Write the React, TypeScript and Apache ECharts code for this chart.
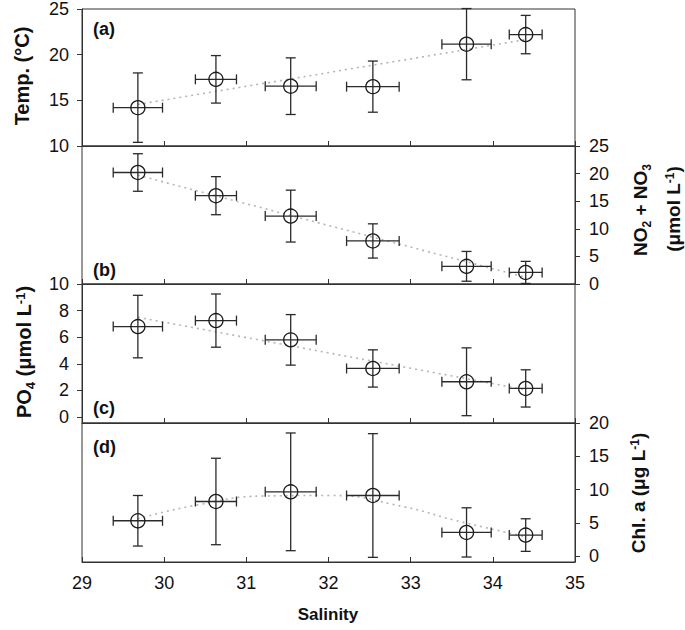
import React, { useEffect, useRef } from "react";
import * as echarts from "echarts";

const salinity = [29.68, 30.63, 31.54, 32.54, 33.68, 34.4];
const salinityErr = [0.3, 0.25, 0.31, 0.32, 0.3, 0.2];

const temp = [14.2, 17.3, 16.55, 16.5, 21.15, 22.2];
const tempErr = [3.8, 2.6, 3.1, 2.8, 3.9, 2.1];

const nox = [20.2, 16.0, 12.3, 7.8, 3.2, 2.1];
const noxErr = [3.4, 3.45, 4.7, 3.1, 2.7, 2.0];

const po4 = [6.8, 7.25, 5.8, 3.65, 2.65, 2.15];
const po4Err = [2.35, 2.0, 1.9, 1.4, 2.55, 1.4];

const chl = [5.3, 8.2, 9.65, 9.1, 3.55, 3.15];
const chlErr = [3.8, 6.5, 8.85, 9.3, 3.7, 2.45];

const trendAX = [29.68, 34.4];
const trendAY = [14.55, 21.65];
const trendBX = [29.68, 34.4];
const trendBY = [19.7, 1.2];
const trendCX = [29.68, 34.4];
const trendCY = [7.5, 2.05];
const trendDX = [29.68, 30.4, 31.21, 32.02, 32.92, 33.53, 34.4];
const trendDY = [5.6, 7.67, 9.02, 9.1, 7.4, 5.4, 2.9];

const xTicks = [29, 30, 31, 32, 33, 34, 35];
const tempTicks = [10, 15, 20, 25];
const noxTicks = [0, 5, 10, 15, 20, 25];
const po4Ticks = [0, 2, 4, 6, 8, 10];
const chlTicks = [0, 5, 10, 15, 20];

const FONT = '"Liberation Sans", Arial, sans-serif';
const AX = "#333";

const rows = (ys: number[], yes: number[]) =>
  salinity.map((s, i) => [s, ys[i], salinityErr[i], yes[i]]);
const pairs = (xs: number[], ys: number[]) => xs.map((x, i) => [x, ys[i]]);

const renderErr = (params: any, api: any) => {
  const x = api.value(0);
  const y = api.value(1);
  const xe = api.value(2);
  const ye = api.value(3);
  const c = api.coord([x, y]);
  const l = api.coord([x - xe, y]);
  const r = api.coord([x + xe, y]);
  const t = api.coord([x, y + ye]);
  const b = api.coord([x, y - ye]);
  const st = { stroke: "#2a2a2a", lineWidth: 1.3, fill: null };
  const cap = 5;
  return {
    type: "group",
    children: [
      { type: "line", shape: { x1: l[0], y1: l[1], x2: r[0], y2: r[1] }, style: st },
      { type: "line", shape: { x1: c[0], y1: t[1], x2: c[0], y2: b[1] }, style: st },
      { type: "line", shape: { x1: l[0], y1: l[1] - cap, x2: l[0], y2: l[1] + cap }, style: st },
      { type: "line", shape: { x1: r[0], y1: r[1] - cap, x2: r[0], y2: r[1] + cap }, style: st },
      { type: "line", shape: { x1: c[0] - cap, y1: t[1], x2: c[0] + cap, y2: t[1] }, style: st },
      { type: "line", shape: { x1: c[0] - cap, y1: b[1], x2: c[0] + cap, y2: b[1] }, style: st },
      {
        type: "circle",
        shape: { cx: c[0], cy: c[1], r: 7 },
        style: { stroke: "#1a1a1a", lineWidth: 1.3, fill: "none" },
      },
    ],
  };
};

const grids = [
  { top: 8, height: 138 },
  { top: 146, height: 138 },
  { top: 284, height: 139 },
  { top: 423, height: 139 },
].map((g) => ({
  left: 82,
  width: 493,
  top: g.top,
  height: g.height,
  show: true,
  borderColor: AX,
  borderWidth: 1,
  backgroundColor: "transparent",
}));

const labelStyle = { fontFamily: FONT, fontSize: 18, color: "#111" };

const mkY = (
  gi: number,
  pos: string,
  min: number,
  max: number,
  ticks: number[]
) => ({
  gridIndex: gi,
  type: "value",
  position: pos,
  min,
  max,
  axisLine: { show: true, onZero: false, lineStyle: { color: AX, width: 1 } },
  axisTick: {
    show: true,
    inside: false,
    length: 5,
    lineStyle: { color: AX },
    customValues: ticks,
  },
  axisLabel: { ...labelStyle, margin: pos === "left" ? 13 : 14, customValues: ticks },
  splitLine: { show: false },
});

const seriesFor = (gi: number, ys: number[], yes: number[], tx: number[], ty: number[]) => [
  {
    type: "line",
    xAxisIndex: gi,
    yAxisIndex: gi,
    data: pairs(tx, ty),
    symbol: "none",
    smooth: tx.length > 2,
    z: 1,
    lineStyle: { color: "#b5b5b5", width: 1.6, type: [2, 4] },
    silent: true,
  },
  {
    type: "custom",
    xAxisIndex: gi,
    yAxisIndex: gi,
    data: rows(ys, yes),
    dimensions: ["s", "v", "se", "ve"],
    encode: { x: 0, y: 1 },
    renderItem: renderErr,
    z: 2,
    silent: true,
  },
];

const boldRich = (size: number) => {
  const small = Math.round(size * 0.65);
  return {
    a: {
      fontFamily: FONT,
      fontWeight: "bold",
      fontSize: size,
      lineHeight: size,
      fill: "#111",
      verticalAlign: "top",
    },
    s: {
      fontFamily: FONT,
      fontWeight: "bold",
      fontSize: small,
      lineHeight: small,
      padding: [Math.round(size * 0.5), 0, 0, 0],
      fill: "#111",
      verticalAlign: "top",
    },
    p: {
      fontFamily: FONT,
      fontWeight: "bold",
      fontSize: small,
      lineHeight: small,
      fill: "#111",
      verticalAlign: "top",
    },
  };
};

const panelLabel = (txt: string, y: number) => ({
  type: "text",
  x: 93,
  y,
  style: {
    text: txt,
    font: `bold 18px ${FONT}`,
    fill: "#111",
    align: "left",
    verticalAlign: "middle",
  },
});

export default function App() {
  const ref = useRef<HTMLDivElement>(null);
  useEffect(() => {
    if (!ref.current) return;
    const chart = echarts.init(ref.current, null, { renderer: "svg" });
    const option: any = {
      animation: false,
      backgroundColor: "#fff",
      grid: grids,
      xAxis: [0, 1, 2, 3].map((i) => ({
        gridIndex: i,
        type: "value",
        min: xTicks[0],
        max: xTicks[xTicks.length - 1],
        interval: 1,
        axisLine: { show: true, onZero: false, lineStyle: { color: AX, width: 1 } },
        axisTick: { show: true, inside: true, length: 5, lineStyle: { color: AX } },
        axisLabel: { show: i === 3, ...labelStyle, margin: 12 },
        splitLine: { show: false },
      })),
      yAxis: [
        { ...mkY(0, "left", 10, 25, tempTicks), interval: 5 },
        { ...mkY(1, "right", 0, 25, noxTicks), interval: 5 },
        mkY(2, "left", -0.45, 10, po4Ticks),
        mkY(3, "right", -0.9, 20, chlTicks),
      ],
      series: [
        ...seriesFor(0, temp, tempErr, trendAX, trendAY),
        ...seriesFor(1, nox, noxErr, trendBX, trendBY),
        ...seriesFor(2, po4, po4Err, trendCX, trendCY),
        ...seriesFor(3, chl, chlErr, trendDX, trendDY),
      ],
      graphic: [
        panelLabel("(a)", 29),
        panelLabel("(b)", 270),
        panelLabel("(c)", 408),
        panelLabel("(d)", 447),
        {
          type: "text",
          x: 22,
          y: 76,
          rotation: Math.PI / 2,
          style: {
            text: "Temp. (°C)",
            font: `bold 20px ${FONT}`,
            fill: "#111",
            align: "center",
            verticalAlign: "middle",
          },
        },
        {
          type: "text",
          x: 24,
          y: 352,
          rotation: Math.PI / 2,
          style: {
            text: "{a|PO}{s|4}{a| (μmol L}{p|-1}{a|)}",
            rich: boldRich(20),
            align: "center",
            verticalAlign: "middle",
          },
        },
        {
          type: "text",
          x: 640,
          y: 210,
          rotation: Math.PI / 2,
          style: {
            text: "{a|NO}{s|2}{a| + NO}{s|3}",
            rich: boldRich(19),
            align: "center",
            verticalAlign: "middle",
          },
        },
        {
          type: "text",
          x: 673,
          y: 209,
          rotation: Math.PI / 2,
          style: {
            text: "{a|(μmol L}{p|-1}{a|)}",
            rich: boldRich(19),
            align: "center",
            verticalAlign: "middle",
          },
        },
        {
          type: "text",
          x: 638,
          y: 493,
          rotation: Math.PI / 2,
          style: {
            text: "{a|Chl. a (μg L}{p|-1}{a|)}",
            rich: boldRich(19),
            align: "center",
            verticalAlign: "middle",
          },
        },
        {
          type: "text",
          x: 328,
          y: 614,
          style: {
            text: "Salinity",
            font: `bold 17px ${FONT}`,
            fill: "#111",
            align: "center",
            verticalAlign: "middle",
          },
        },
      ],
    };
    chart.setOption(option);
    return () => chart.dispose();
  }, []);
  return (
    <div
      ref={ref}
      style={{ position: "absolute", left: 0, top: 0, width: 685, height: 630 }}
    />
  );
}
